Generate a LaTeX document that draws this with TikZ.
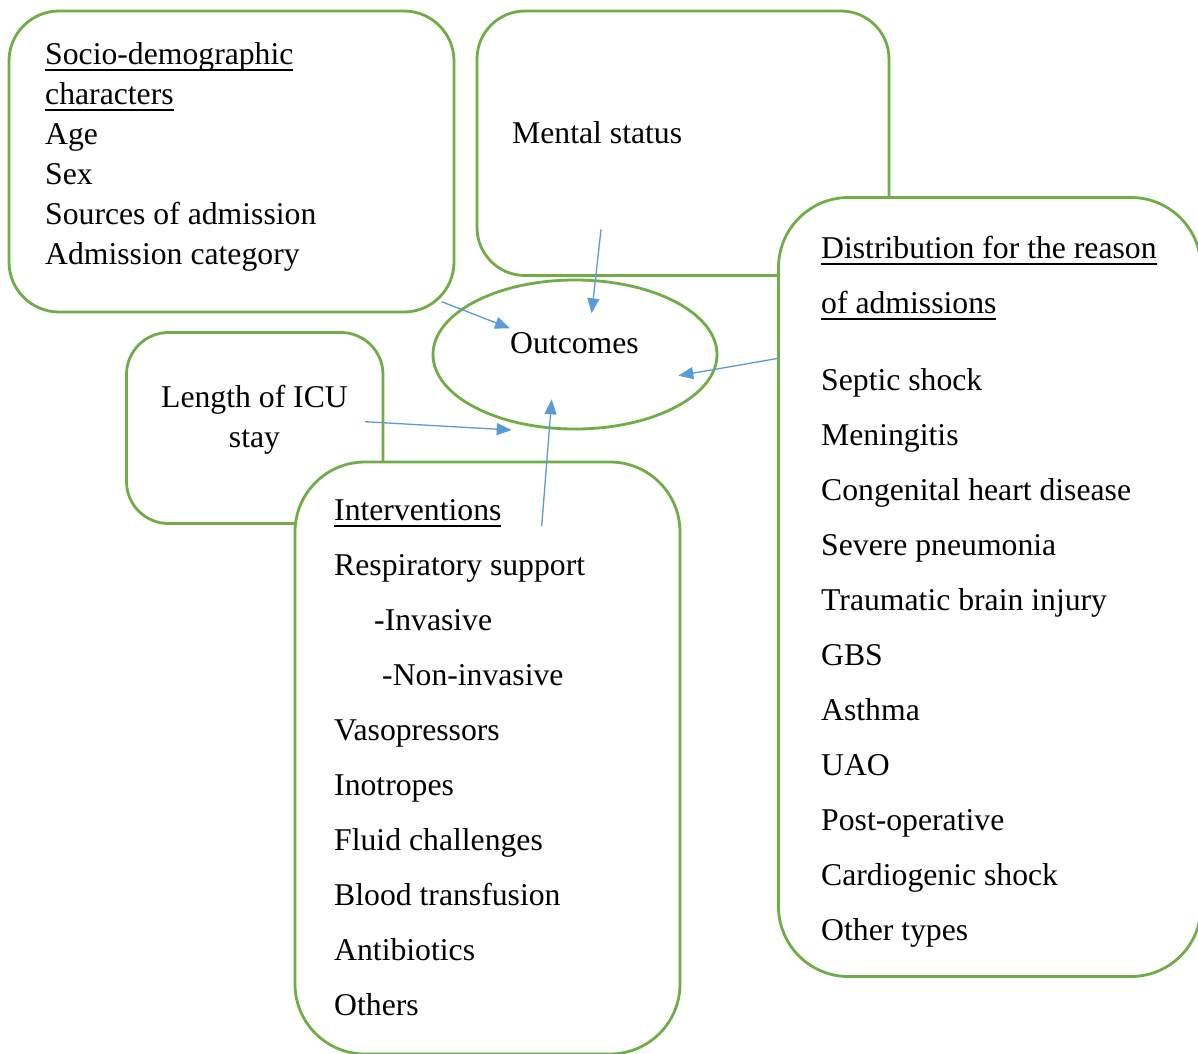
\documentclass[tikz,border=0pt]{standalone}
\usepackage{fontspec}
\setmainfont{Liberation Serif}
\usetikzlibrary{arrows.meta,shapes.geometric}
\definecolor{boxgreen}{HTML}{70AD47}
\definecolor{arrowblue}{HTML}{5B9BD5}
\newcommand\myul[1]{\setbox0\hbox{#1}\rlap{\rule[-6.5pt]{\wd0}{1.8pt}}\box0}
\begin{document}
\begin{tikzpicture}[x=1pt,y=-1pt,
  framebox/.style={draw=boxgreen, line width=2.8pt, fill=white, rounded corners=#1, inner sep=0pt},
  lbl/.style={anchor=base west, inner sep=0pt, font=\fontsize{31.7}{38}\selectfont},
  clbl/.style={anchor=base, inner sep=0pt, font=\fontsize{31.7}{38}\selectfont},
  link/.style={draw=arrowblue, line width=1.3pt, -{Triangle[length=15pt,width=12pt]}}]
\useasboundingbox[fill=white] (0,0) rectangle (1198,1053);

% boxes
\node[framebox=50pt, minimum width=445pt, minimum height=301pt] (socio) at (231.5,161.5) {};
\node[framebox=48pt, minimum width=412pt, minimum height=264.5pt] (mental) at (683,143.25) {};
\node[framebox=70pt, minimum width=422.5pt, minimum height=779pt] (distr) at (989.75,587) {};
\node[framebox=42pt, minimum width=256.5pt, minimum height=191pt] (icu) at (254.75,428) {};
\node[framebox=70pt, minimum width=385pt, minimum height=592pt] (interv) at (487.5,758) {};
\node[ellipse, draw=boxgreen, line width=2.8pt, minimum width=284pt, minimum height=149pt, inner sep=0pt] (outc) at (575,354.5) {};

% socio texts
\node[lbl] (s1) at (45,64) {\myul{Socio-demographic}};
\node[lbl] (s2) at (45,104) {\myul{characters}};
\node[lbl] (s3) at (45,144) {Age};
\node[lbl] (s4) at (45,184) {Sex};
\node[lbl] (s5) at (45,224) {Sources of admission};
\node[lbl] (s6) at (45,264) {Admission category};

% mental
\node[lbl] (m1) at (512,143) {Mental status};

% outcomes
\node[lbl] (o1) at (510,353) {Outcomes};

% icu
\node[clbl] (i1) at (254.5,407) {Length of ICU};
\node[clbl] (i2) at (254.5,447) {stay};

% distribution
\node[lbl] (d1) at (821,258) {\myul{Distribution for the reason}};
\node[lbl] (d2) at (821,313) {\myul{of admissions}};
\foreach \t [count=\k] in {Septic shock, Meningitis, Congenital heart disease, Severe pneumonia, Traumatic brain injury, GBS, Asthma, UAO, Post-operative, Cardiogenic shock, Other types}
  \node[lbl] (dr\k) at (821,335+55*\k) {\t};

% interventions
\node[lbl] (v1) at (334,520) {\myul{Interventions}};
\node[lbl] (v2) at (334,575) {Respiratory support};
\node[lbl] (v3) at (374,630) {-Invasive};
\node[lbl] (v4) at (382,685) {-Non-invasive};
\foreach \t [count=\k] in {Vasopressors, Inotropes, Fluid challenges, Blood transfusion, Antibiotics, Others}
  \node[lbl] (vr\k) at (334,685+55*\k) {\t};

% connector end points
\coordinate (aS) at (441.7,301.7);  \coordinate (bS) at (510,328.3);
\coordinate (aM) at (601,229.3);    \coordinate (bM) at (591.7,313.3);
\coordinate (aD) at (778.3,358.3);  \coordinate (bD) at (678.3,375.7);
\coordinate (aI) at (365,421.7);    \coordinate (bI) at (511.7,430);
\coordinate (aV) at (541.7,526);    \coordinate (bV) at (551.7,399.3);

\draw[link] (aS) -- (bS);
\draw[link] (aM) -- (bM);
\draw[link] (aD) -- (bD);
\draw[link] (aI) -- (bI);
\draw[link] (aV) -- (bV);
\end{tikzpicture}
\end{document}
